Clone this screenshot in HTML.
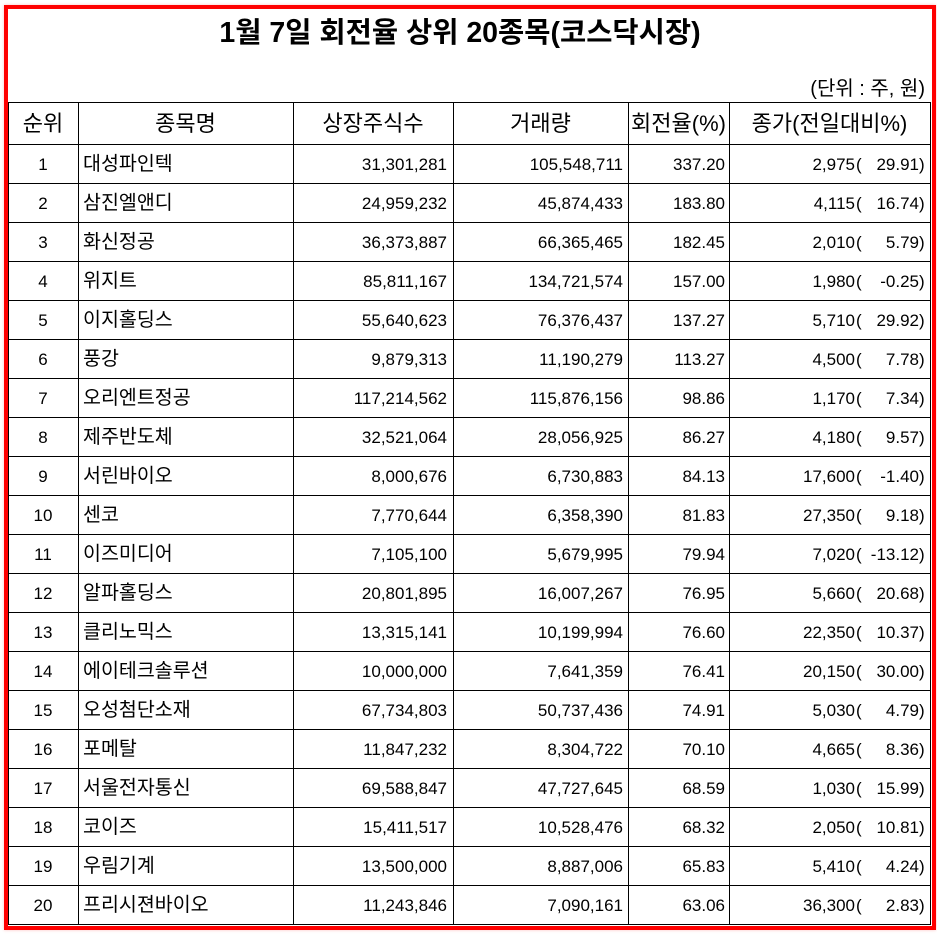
<!DOCTYPE html>
<html>
<head>
<meta charset="utf-8">
<style>
  html,body{margin:0;padding:0;background:#fff;}
  body{width:937px;height:941px;position:relative;overflow:hidden;
       font-family:"Liberation Sans","Noto Sans CJK KR",sans-serif;color:#000;}
  .frame{position:absolute;left:4px;top:5px;width:924px;height:917px;border:4px solid #ff0000;
         box-shadow:0 0 3px rgba(255,0,0,0.25);}
  .title{position:absolute;left:0;width:920px;top:13px;height:40px;line-height:40px;text-align:center;
         font-weight:bold;font-size:28.5px;}
  .unit{position:absolute;right:12px;top:75px;height:28px;line-height:28px;font-size:20px;}
  .hl{position:absolute;left:8px;width:923px;height:1px;background:#000;}
  .vl{position:absolute;top:102px;height:823px;width:1px;background:#000;}
  .row{position:absolute;left:0;width:937px;height:39px;line-height:39px;}
  .hdr{height:42px;line-height:42px;font-size:22px;}
  .c{position:absolute;top:0;height:100%;white-space:nowrap;}
  .c1{left:8px;width:70px;text-align:center;font-size:17px;}
  .c2{left:83px;width:205px;text-align:left;font-size:19.5px;}
  .c3{left:293px;width:154px;text-align:right;font-size:17px;}
  .c4{left:453px;width:170px;text-align:right;font-size:17px;}
  .c5{left:628px;width:97px;text-align:right;font-size:17px;}
  .p{left:729px;width:126px;text-align:right;font-size:17px;}
  .lp{left:856px;width:7px;text-align:left;font-size:17px;}
  .pc{left:863px;width:56px;text-align:right;font-size:17px;}
  .rp{left:919px;width:7px;text-align:left;font-size:17px;}
  .hdr .c{font-size:22px;text-align:center;}
  .hdr .h1{left:8px;width:70px;}
  .hdr .h2{left:78px;width:215px;}
  .hdr .h3{left:293px;width:160px;}
  .hdr .h4{left:453px;width:175px;}
  .hdr .h5{left:628px;width:101px;}
  .hdr .h6{left:729px;width:201px;}
</style>
</head>
<body>
<div class="frame"></div>
<div class="title">1월 7일 회전율 상위 20종목(코스닥시장)</div>
<div class="unit">(단위 : 주, 원)</div>

<!-- horizontal lines -->
<div class="hl" style="top:102px"></div>
<div class="hl" style="top:144px"></div>
<div class="hl" style="top:183px"></div>
<div class="hl" style="top:222px"></div>
<div class="hl" style="top:261px"></div>
<div class="hl" style="top:300px"></div>
<div class="hl" style="top:339px"></div>
<div class="hl" style="top:378px"></div>
<div class="hl" style="top:417px"></div>
<div class="hl" style="top:456px"></div>
<div class="hl" style="top:495px"></div>
<div class="hl" style="top:534px"></div>
<div class="hl" style="top:573px"></div>
<div class="hl" style="top:612px"></div>
<div class="hl" style="top:651px"></div>
<div class="hl" style="top:690px"></div>
<div class="hl" style="top:729px"></div>
<div class="hl" style="top:768px"></div>
<div class="hl" style="top:807px"></div>
<div class="hl" style="top:846px"></div>
<div class="hl" style="top:885px"></div>
<div class="hl" style="top:924px"></div>

<!-- vertical lines -->
<div class="vl" style="left:8px"></div>
<div class="vl" style="left:78px"></div>
<div class="vl" style="left:293px"></div>
<div class="vl" style="left:453px"></div>
<div class="vl" style="left:628px"></div>
<div class="vl" style="left:729px"></div>
<div class="vl" style="left:930px"></div>

<div class="row hdr" style="top:103px">
  <div class="c h1">순위</div>
  <div class="c h2">종목명</div>
  <div class="c h3">상장주식수</div>
  <div class="c h4">거래량</div>
  <div class="c h5">회전율(%)</div>
  <div class="c h6">종가(전일대비%)</div>
</div>

<div class="row" style="top:145px"><div class="c c1">1</div><div class="c c2">대성파인텍</div><div class="c c3">31,301,281</div><div class="c c4">105,548,711</div><div class="c c5">337.20</div><div class="c p">2,975</div><div class="c lp">(</div><div class="c pc">29.91</div><div class="c rp">)</div></div>
<div class="row" style="top:184px"><div class="c c1">2</div><div class="c c2">삼진엘앤디</div><div class="c c3">24,959,232</div><div class="c c4">45,874,433</div><div class="c c5">183.80</div><div class="c p">4,115</div><div class="c lp">(</div><div class="c pc">16.74</div><div class="c rp">)</div></div>
<div class="row" style="top:223px"><div class="c c1">3</div><div class="c c2">화신정공</div><div class="c c3">36,373,887</div><div class="c c4">66,365,465</div><div class="c c5">182.45</div><div class="c p">2,010</div><div class="c lp">(</div><div class="c pc">5.79</div><div class="c rp">)</div></div>
<div class="row" style="top:262px"><div class="c c1">4</div><div class="c c2">위지트</div><div class="c c3">85,811,167</div><div class="c c4">134,721,574</div><div class="c c5">157.00</div><div class="c p">1,980</div><div class="c lp">(</div><div class="c pc">-0.25</div><div class="c rp">)</div></div>
<div class="row" style="top:301px"><div class="c c1">5</div><div class="c c2">이지홀딩스</div><div class="c c3">55,640,623</div><div class="c c4">76,376,437</div><div class="c c5">137.27</div><div class="c p">5,710</div><div class="c lp">(</div><div class="c pc">29.92</div><div class="c rp">)</div></div>
<div class="row" style="top:340px"><div class="c c1">6</div><div class="c c2">풍강</div><div class="c c3">9,879,313</div><div class="c c4">11,190,279</div><div class="c c5">113.27</div><div class="c p">4,500</div><div class="c lp">(</div><div class="c pc">7.78</div><div class="c rp">)</div></div>
<div class="row" style="top:379px"><div class="c c1">7</div><div class="c c2">오리엔트정공</div><div class="c c3">117,214,562</div><div class="c c4">115,876,156</div><div class="c c5">98.86</div><div class="c p">1,170</div><div class="c lp">(</div><div class="c pc">7.34</div><div class="c rp">)</div></div>
<div class="row" style="top:418px"><div class="c c1">8</div><div class="c c2">제주반도체</div><div class="c c3">32,521,064</div><div class="c c4">28,056,925</div><div class="c c5">86.27</div><div class="c p">4,180</div><div class="c lp">(</div><div class="c pc">9.57</div><div class="c rp">)</div></div>
<div class="row" style="top:457px"><div class="c c1">9</div><div class="c c2">서린바이오</div><div class="c c3">8,000,676</div><div class="c c4">6,730,883</div><div class="c c5">84.13</div><div class="c p">17,600</div><div class="c lp">(</div><div class="c pc">-1.40</div><div class="c rp">)</div></div>
<div class="row" style="top:496px"><div class="c c1">10</div><div class="c c2">센코</div><div class="c c3">7,770,644</div><div class="c c4">6,358,390</div><div class="c c5">81.83</div><div class="c p">27,350</div><div class="c lp">(</div><div class="c pc">9.18</div><div class="c rp">)</div></div>
<div class="row" style="top:535px"><div class="c c1">11</div><div class="c c2">이즈미디어</div><div class="c c3">7,105,100</div><div class="c c4">5,679,995</div><div class="c c5">79.94</div><div class="c p">7,020</div><div class="c lp">(</div><div class="c pc">-13.12</div><div class="c rp">)</div></div>
<div class="row" style="top:574px"><div class="c c1">12</div><div class="c c2">알파홀딩스</div><div class="c c3">20,801,895</div><div class="c c4">16,007,267</div><div class="c c5">76.95</div><div class="c p">5,660</div><div class="c lp">(</div><div class="c pc">20.68</div><div class="c rp">)</div></div>
<div class="row" style="top:613px"><div class="c c1">13</div><div class="c c2">클리노믹스</div><div class="c c3">13,315,141</div><div class="c c4">10,199,994</div><div class="c c5">76.60</div><div class="c p">22,350</div><div class="c lp">(</div><div class="c pc">10.37</div><div class="c rp">)</div></div>
<div class="row" style="top:652px"><div class="c c1">14</div><div class="c c2">에이테크솔루션</div><div class="c c3">10,000,000</div><div class="c c4">7,641,359</div><div class="c c5">76.41</div><div class="c p">20,150</div><div class="c lp">(</div><div class="c pc">30.00</div><div class="c rp">)</div></div>
<div class="row" style="top:691px"><div class="c c1">15</div><div class="c c2">오성첨단소재</div><div class="c c3">67,734,803</div><div class="c c4">50,737,436</div><div class="c c5">74.91</div><div class="c p">5,030</div><div class="c lp">(</div><div class="c pc">4.79</div><div class="c rp">)</div></div>
<div class="row" style="top:730px"><div class="c c1">16</div><div class="c c2">포메탈</div><div class="c c3">11,847,232</div><div class="c c4">8,304,722</div><div class="c c5">70.10</div><div class="c p">4,665</div><div class="c lp">(</div><div class="c pc">8.36</div><div class="c rp">)</div></div>
<div class="row" style="top:769px"><div class="c c1">17</div><div class="c c2">서울전자통신</div><div class="c c3">69,588,847</div><div class="c c4">47,727,645</div><div class="c c5">68.59</div><div class="c p">1,030</div><div class="c lp">(</div><div class="c pc">15.99</div><div class="c rp">)</div></div>
<div class="row" style="top:808px"><div class="c c1">18</div><div class="c c2">코이즈</div><div class="c c3">15,411,517</div><div class="c c4">10,528,476</div><div class="c c5">68.32</div><div class="c p">2,050</div><div class="c lp">(</div><div class="c pc">10.81</div><div class="c rp">)</div></div>
<div class="row" style="top:847px"><div class="c c1">19</div><div class="c c2">우림기계</div><div class="c c3">13,500,000</div><div class="c c4">8,887,006</div><div class="c c5">65.83</div><div class="c p">5,410</div><div class="c lp">(</div><div class="c pc">4.24</div><div class="c rp">)</div></div>
<div class="row" style="top:886px"><div class="c c1">20</div><div class="c c2">프리시젼바이오</div><div class="c c3">11,243,846</div><div class="c c4">7,090,161</div><div class="c c5">63.06</div><div class="c p">36,300</div><div class="c lp">(</div><div class="c pc">2.83</div><div class="c rp">)</div></div>

</body>
</html>
